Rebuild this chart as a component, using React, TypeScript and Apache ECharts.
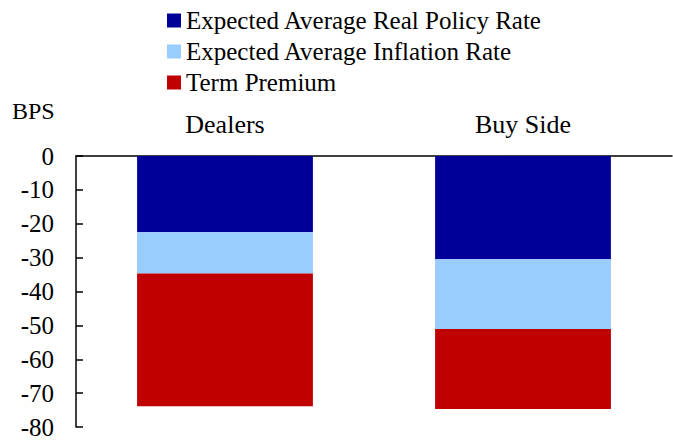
import React, { useEffect, useRef } from "react";
import * as echarts from "echarts";

const categories = ["Dealers", "Buy Side"];
const seriesNames = [
  "Expected Average Real Policy Rate",
  "Expected Average Inflation Rate",
  "Term Premium",
];
const policyRate = [-22.5, -30.5];
const inflationRate = [-12.2, -20.6];
const termPremium = [-39.2, -23.6];
const colors = ["#000099", "#99CCFF", "#C00000"];

const FONT = "Liberation Serif";

export default function App() {
  const ref = useRef<HTMLDivElement>(null);
  useEffect(() => {
    if (!ref.current) return;
    const chart = echarts.init(ref.current, null, { renderer: "svg" });
    const data = [policyRate, inflationRate, termPremium];
    chart.setOption({
      animation: false,
      textStyle: { fontFamily: FONT },
      legend: {
        orient: "vertical",
        left: 162,
        top: 3,
        itemWidth: 14,
        itemHeight: 14,
        itemGap: 6,
        icon: "rect",
        textStyle: { fontFamily: FONT, fontSize: 25, color: "#000" },
        data: seriesNames,
      },
      graphic: [
        {
          type: "text",
          left: 12,
          top: 99,
          style: { text: "BPS", fontFamily: FONT, fontSize: 24, fill: "#000" },
        },
      ],
      grid: { left: 76, right: 1, top: 156, bottom: 14 },
      xAxis: {
        type: "category",
        position: "top",
        data: categories,
        axisLine: { lineStyle: { color: "#000", width: 1.5 } },
        axisTick: { inside: true, length: 6, lineStyle: { color: "#000", width: 1.5 } },
        axisLabel: { color: "#000", fontFamily: FONT, fontSize: 26, margin: 19 },
      },
      yAxis: {
        type: "value",
        min: -80,
        max: 0,
        interval: 10,
        axisLine: { show: true, lineStyle: { color: "#000", width: 1.5 } },
        axisTick: { show: true, inside: true, length: 7, lineStyle: { color: "#000", width: 1.5 } },
        axisLabel: { color: "#000", fontFamily: FONT, fontSize: 25, margin: 22 },
        splitLine: { show: false },
      },
      series: seriesNames.map((name, i) => ({
        name,
        type: "bar",
        stack: "total",
        barWidth: "59%",
        data: data[i],
        itemStyle: { color: colors[i] },
      })),
    });
    return () => chart.dispose();
  }, []);
  return <div ref={ref} style={{ width: 673, height: 441, position: "absolute", left: 0, top: 0 }} />;
}
